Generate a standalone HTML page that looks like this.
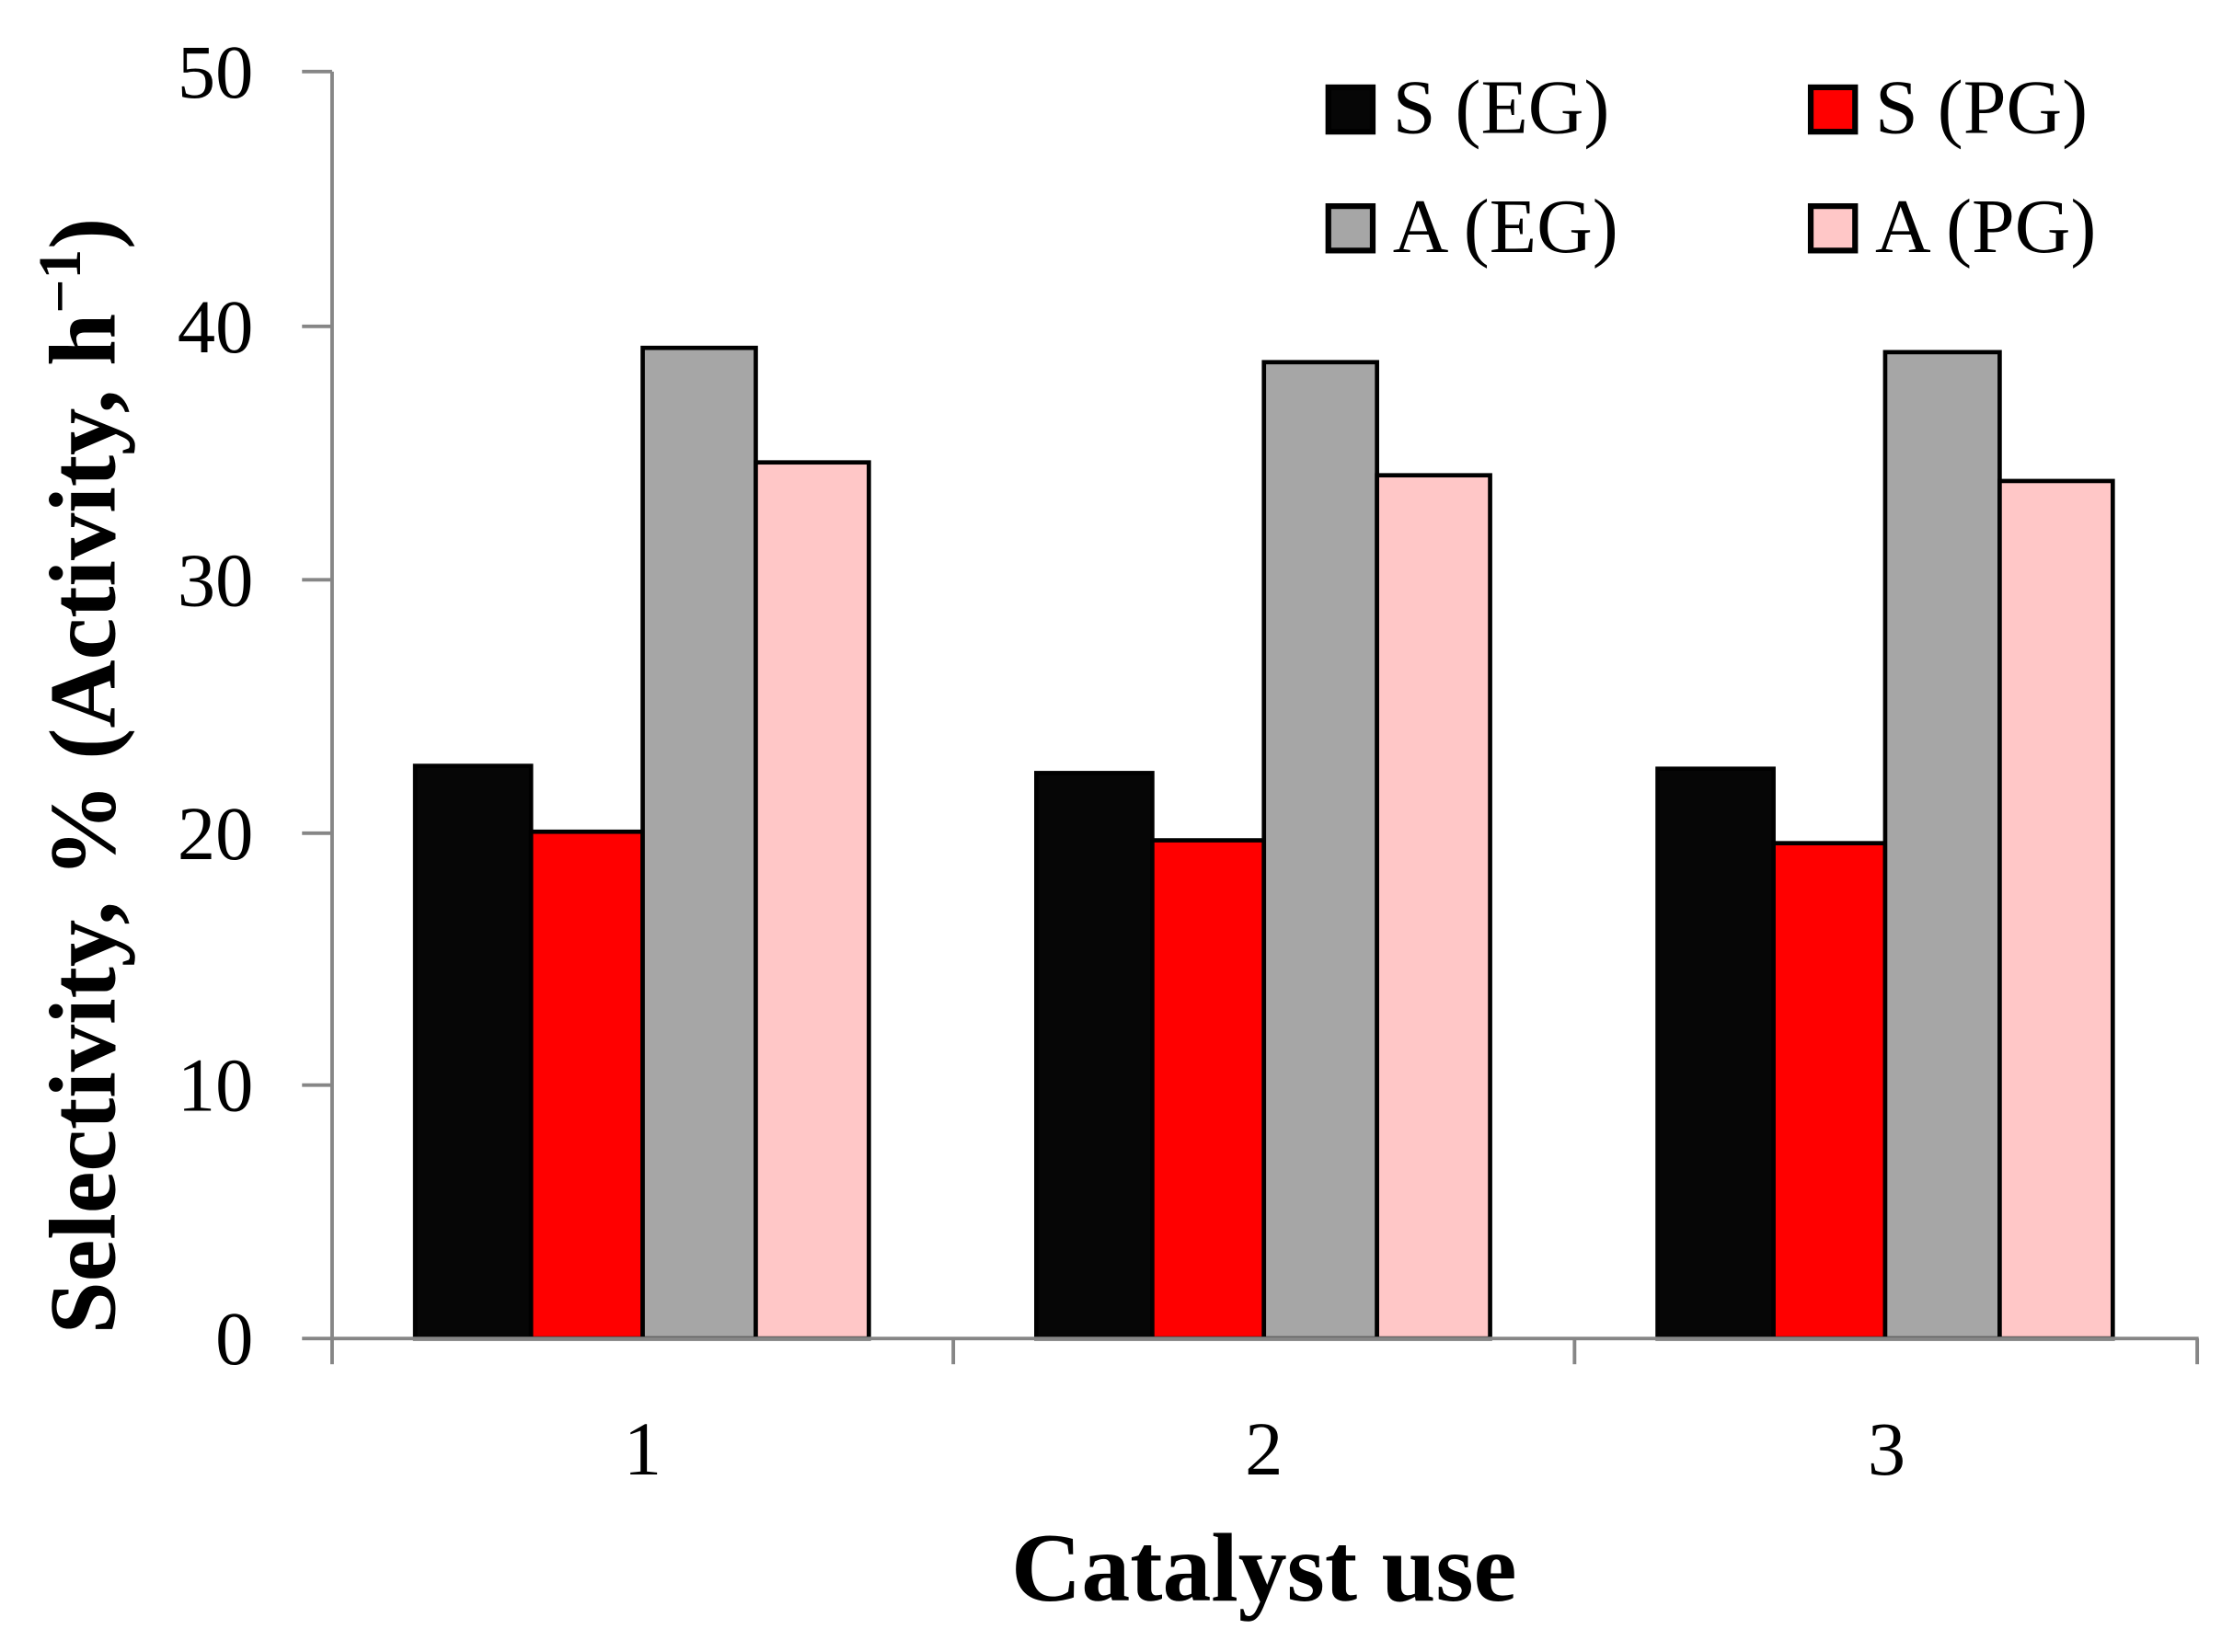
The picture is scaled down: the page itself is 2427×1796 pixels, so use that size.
<!DOCTYPE html>
<html><head><meta charset="utf-8"><style>html,body{margin:0;padding:0;background:#fff}svg{display:block}</style></head>
<body>
<svg width="2427" height="1796" viewBox="0 0 1560 1154" preserveAspectRatio="none" xmlns="http://www.w3.org/2000/svg" font-family="'Liberation Serif', serif">
<rect width="1560" height="1154" fill="#fff"/>
<g stroke="#000" stroke-width="3">
<rect x="290" y="535" width="81" height="400" fill="#060606"/>
<rect x="371" y="581" width="78" height="354" fill="#ff0000"/>
<rect x="449" y="243" width="79" height="692" fill="#a6a6a6"/>
<rect x="528" y="323" width="79" height="612" fill="#ffc7c7"/>
<rect x="724" y="540" width="81" height="395" fill="#060606"/>
<rect x="805" y="587" width="78" height="348" fill="#ff0000"/>
<rect x="883" y="253" width="79" height="682" fill="#a6a6a6"/>
<rect x="962" y="332" width="79" height="603" fill="#ffc7c7"/>
<rect x="1158" y="537" width="81" height="398" fill="#060606"/>
<rect x="1239" y="589" width="78" height="346" fill="#ff0000"/>
<rect x="1317" y="246" width="80" height="689" fill="#a6a6a6"/>
<rect x="1397" y="336" width="79" height="599" fill="#ffc7c7"/>
</g>
<g stroke="#868686" stroke-width="2.5" fill="none">
<line x1="232" y1="50" x2="232" y2="935"/>
<line x1="211" y1="935" x2="1536" y2="935"/>
<line x1="211" y1="50" x2="232" y2="50"/>
<line x1="211" y1="228" x2="232" y2="228"/>
<line x1="211" y1="405" x2="232" y2="405"/>
<line x1="211" y1="582" x2="232" y2="582"/>
<line x1="211" y1="758" x2="232" y2="758"/>
<line x1="232" y1="935" x2="232" y2="953"/>
<line x1="666" y1="935" x2="666" y2="953"/>
<line x1="1100" y1="935" x2="1100" y2="953"/>
<line x1="1535" y1="935" x2="1535" y2="953"/>
</g>
<g font-size="53" text-anchor="end" fill="#000">
<text x="177" y="68">50</text>
<text x="177" y="246">40</text>
<text x="177" y="423">30</text>
<text x="177" y="600">20</text>
<text x="177" y="776">10</text>
<text x="177" y="953">0</text>
</g>
<g font-size="53" text-anchor="middle" fill="#000">
<text x="449" y="1030">1</text>
<text x="883" y="1030">2</text>
<text x="1318" y="1030">3</text>
</g>
<text x="883" y="1118" font-size="68" font-weight="bold" text-anchor="middle">Catalyst use</text>
<text transform="translate(80,542) rotate(-90)" font-size="66" font-weight="bold" text-anchor="middle">Selectivity, % (Activity, h<tspan font-size="42" dy="-24">−1</tspan><tspan dy="24">)</tspan></text>
<g stroke="#000" stroke-width="4">
<rect x="928" y="61" width="31" height="31" fill="#060606"/>
<rect x="1265" y="61" width="31" height="31" fill="#ff0000"/>
<rect x="928" y="144" width="31" height="31" fill="#a6a6a6"/>
<rect x="1265" y="144" width="31" height="31" fill="#ffc7c7"/>
</g>
<g font-size="54" fill="#000">
<text x="973" y="93">S (EG)</text>
<text x="1310" y="93">S (PG)</text>
<text x="973" y="176">A (EG)</text>
<text x="1310" y="176">A (PG)</text>
</g>
</svg>
</body></html>
